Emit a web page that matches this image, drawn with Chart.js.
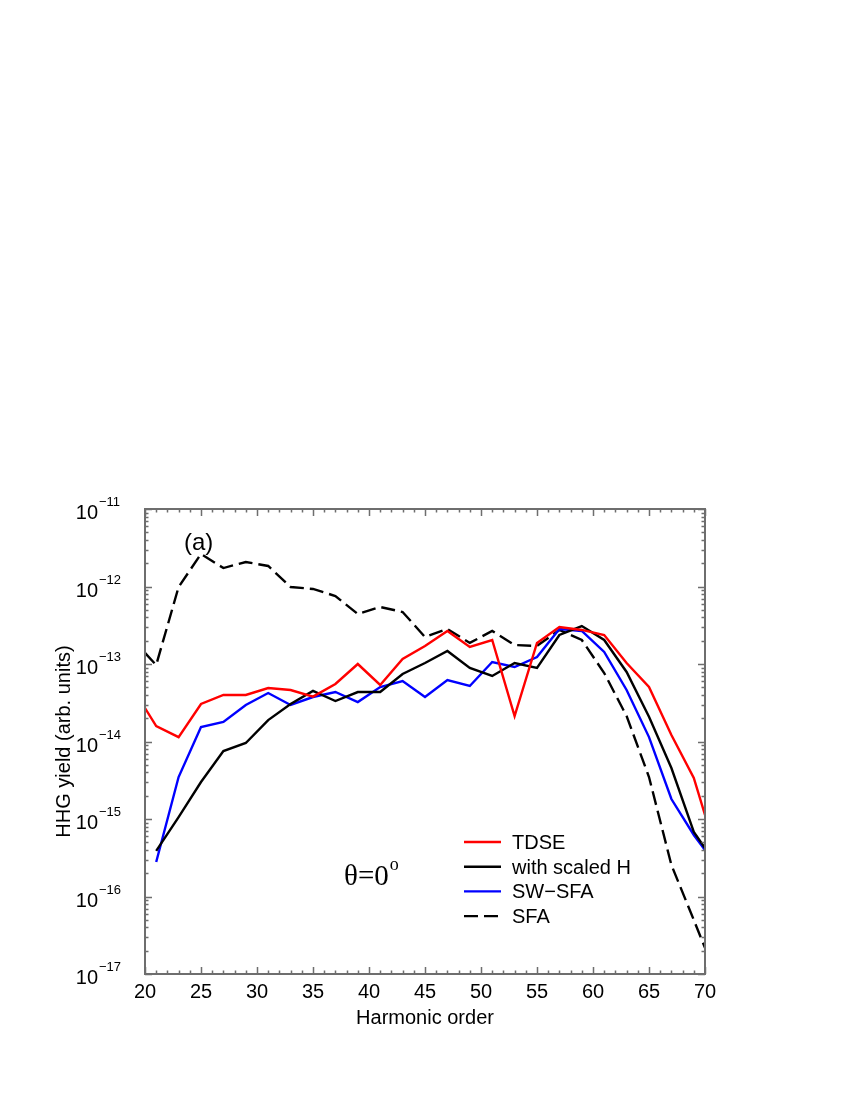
<!DOCTYPE html>
<html>
<head>
<meta charset="utf-8">
<script src="https://cdn.jsdelivr.net/npm/chart.js@4/dist/chart.umd.min.js"></script>
<style>
  body { margin: 0; background: #fff; }
  canvas { display: block; }
</style>
</head>
<body>
<canvas id="chart" width="850" height="1100"></canvas>
<script>
// harmonic orders (x values)
const harmonicsA = [20, 21, 23, 25, 27, 29, 31, 33, 35, 37, 39, 41, 43, 45, 47, 49, 51, 53, 55, 57, 59, 61, 63, 65, 67, 69, 70];
const harmonicsB = [21, 23, 25, 27, 29, 31, 33, 35, 37, 39, 41, 43, 45, 47, 49, 51, 53, 55, 57, 59, 61, 63, 65, 67, 69, 70];

const tdse = [2.7e-14, 1.58e-14, 1.14e-14, 3.05e-14, 3.98e-14, 3.98e-14, 4.9e-14, 4.62e-14, 3.79e-14, 5.52e-14,
  1.0e-13, 5.36e-14, 1.16e-13, 1.71e-13, 2.67e-13, 1.66e-13, 2.04e-13, 2.13e-14, 1.87e-13, 3.0e-13,
  2.75e-13, 2.37e-13, 1.03e-13, 5.05e-14, 1.21e-14, 3.38e-15, 1.13e-15];
const sfa = [1.39e-13, 9.7e-14, 9.86e-13, 2.63e-12, 1.73e-12, 2.07e-12, 1.84e-12, 9.86e-13, 9.29e-13, 7.54e-13,
  4.42e-13, 5.44e-13, 4.69e-13, 2.23e-13, 2.83e-13, 1.87e-13, 2.67e-13, 1.76e-13, 1.71e-13, 2.75e-13,
  2.04e-13, 7.65e-14, 2.13e-14, 3.48e-15, 2.55e-16, 4.98e-17, 2.17e-17];
const scaledH = [3.87e-16, 1.06e-15, 3.0e-15, 7.54e-15, 9.57e-15, 1.89e-14, 3.05e-14, 4.49e-14, 3.33e-14, 4.35e-14,
  4.35e-14, 7.43e-14, 1.03e-13, 1.47e-13, 8.88e-14, 7.0e-14, 1.03e-13, 8.88e-14, 2.37e-13, 3.09e-13,
  2.04e-13, 7.89e-14, 2.09e-14, 4.55e-15, 6.8e-16, 4.22e-16];
const swsfa = [2.79e-16, 3.48e-15, 1.54e-14, 1.79e-14, 2.96e-14, 4.22e-14, 2.96e-14, 3.75e-14, 4.35e-14, 3.23e-14,
  5.05e-14, 6.04e-14, 3.75e-14, 6.22e-14, 5.2e-14, 1.06e-13, 9.15e-14, 1.23e-13, 2.83e-13, 2.67e-13,
  1.43e-13, 4.62e-14, 1.14e-14, 1.81e-15, 6.22e-16, 3.98e-16];

const seriesNames = ["TDSE", "with scaled H", "SW\u2212SFA", "SFA"];
const xTicks = [20, 25, 30, 35, 40, 45, 50, 55, 60, 65, 70];
const yDecades = [-17, -16, -15, -14, -13, -12, -11];

const SANS = '"Liberation Sans", Arial, Helvetica, sans-serif';
const SERIF = '"Liberation Serif", "Times New Roman", serif';
const AXIS = "#6e6e6e";
const DASH = [14, 6];

function pts(xs, ys) {
  return xs.map((x, i) => ({ x: x, y: ys[i] }));
}

const frame = {
  id: "frame",
  afterDraw(chart) {
    const ctx = chart.ctx;
    const a = chart.chartArea;
    const xs = chart.scales.x, ys = chart.scales.y;
    ctx.save();

    // box
    ctx.strokeStyle = AXIS;
    ctx.lineWidth = 2;
    ctx.strokeRect(a.left, a.top, a.right - a.left, a.bottom - a.top);

    // x ticks, inward on bottom and top
    ctx.lineWidth = 1.5;
    ctx.beginPath();
    for (let h = 20; h <= 70; h++) {
      const px = Math.round(xs.getPixelForValue(h)) + 0.5;
      const len = h % 5 === 0 ? 7 : 3.5;
      ctx.moveTo(px, a.bottom); ctx.lineTo(px, a.bottom - len);
      ctx.moveTo(px, a.top); ctx.lineTo(px, a.top + len);
    }
    // y ticks, major + minor, left and right
    yDecades.forEach(e => {
      for (let k = 1; k <= 9; k++) {
        if (e === -11 && k > 1) break;
        const py = Math.round(ys.getPixelForValue(k * Math.pow(10, e))) + 0.5;
        const len = k === 1 ? 7 : 3.5;
        ctx.moveTo(a.left, py); ctx.lineTo(a.left + len, py);
        ctx.moveTo(a.right, py); ctx.lineTo(a.right - len, py);
      }
    });
    ctx.stroke();

    // x tick labels
    ctx.fillStyle = "#000";
    ctx.font = "20px " + SANS;
    ctx.textAlign = "center";
    ctx.textBaseline = "alphabetic";
    xTicks.forEach(t => ctx.fillText(String(t), xs.getPixelForValue(t), a.bottom + 24));

    // y tick labels 10^n
    yDecades.forEach(e => {
      const py = ys.getPixelForValue(Math.pow(10, e));
      ctx.font = "20px " + SANS;
      ctx.textAlign = "right";
      ctx.fillText("10", 98, py + 10);
      ctx.font = "13px " + SANS;
      ctx.textAlign = "left";
      ctx.fillText("\u2212" + Math.abs(e), 99, py - 3);
    });

    // axis titles
    ctx.font = "20px " + SANS;
    ctx.textAlign = "center";
    ctx.fillText("Harmonic order", (a.left + a.right) / 2, a.bottom + 50);
    ctx.save();
    ctx.translate(70, (a.top + a.bottom) / 2);
    ctx.rotate(-Math.PI / 2);
    ctx.fillText("HHG yield (arb. units)", 0, 0);
    ctx.restore();

    // panel label and angle
    ctx.textAlign = "left";
    ctx.font = "24px " + SANS;
    ctx.fillText("(a)", 184, 550);
    ctx.font = "29px " + SERIF;
    ctx.fillText("\u03b8=0", 344, 885);
    const w = ctx.measureText("\u03b8=0").width;
    ctx.font = "18px " + SERIF;
    ctx.fillText("o", 344 + w + 1, 870);

    // legend
    ctx.font = "20px " + SANS;
    chart.data.datasets.forEach((ds, i) => {
      const y = 842 + i * 24.7;
      ctx.strokeStyle = ds.borderColor;
      ctx.lineWidth = 2.4;
      ctx.setLineDash(ds.borderDash || []);
      ctx.beginPath();
      ctx.moveTo(464, y); ctx.lineTo(501, y);
      ctx.stroke();
      ctx.setLineDash([]);
      ctx.fillStyle = "#000";
      ctx.fillText(ds.label, 512, y + 7);
    });

    ctx.restore();
  }
};

new Chart(document.getElementById("chart"), {
  type: "line",
  data: {
    datasets: [
      { label: seriesNames[0], data: pts(harmonicsA, tdse), borderColor: "#ff0000" },
      { label: seriesNames[1], data: pts(harmonicsB, scaledH), borderColor: "#000000" },
      { label: seriesNames[2], data: pts(harmonicsB, swsfa), borderColor: "#0000ff" },
      { label: seriesNames[3], data: pts(harmonicsA, sfa), borderColor: "#000000", borderDash: DASH }
    ]
  },
  options: {
    responsive: false,
    animation: false,
    layout: { padding: { left: 145, right: 145, top: 509, bottom: 126 } },
    elements: {
      line: { borderWidth: 2.4, tension: 0, fill: false },
      point: { radius: 0 }
    },
    plugins: { legend: { display: false }, tooltip: { enabled: false } },
    scales: {
      x: { type: "linear", min: 20, max: 70, display: false },
      y: { type: "logarithmic", min: 1e-17, max: 1e-11, display: false }
    }
  },
  plugins: [frame]
});
</script>
</body>
</html>
